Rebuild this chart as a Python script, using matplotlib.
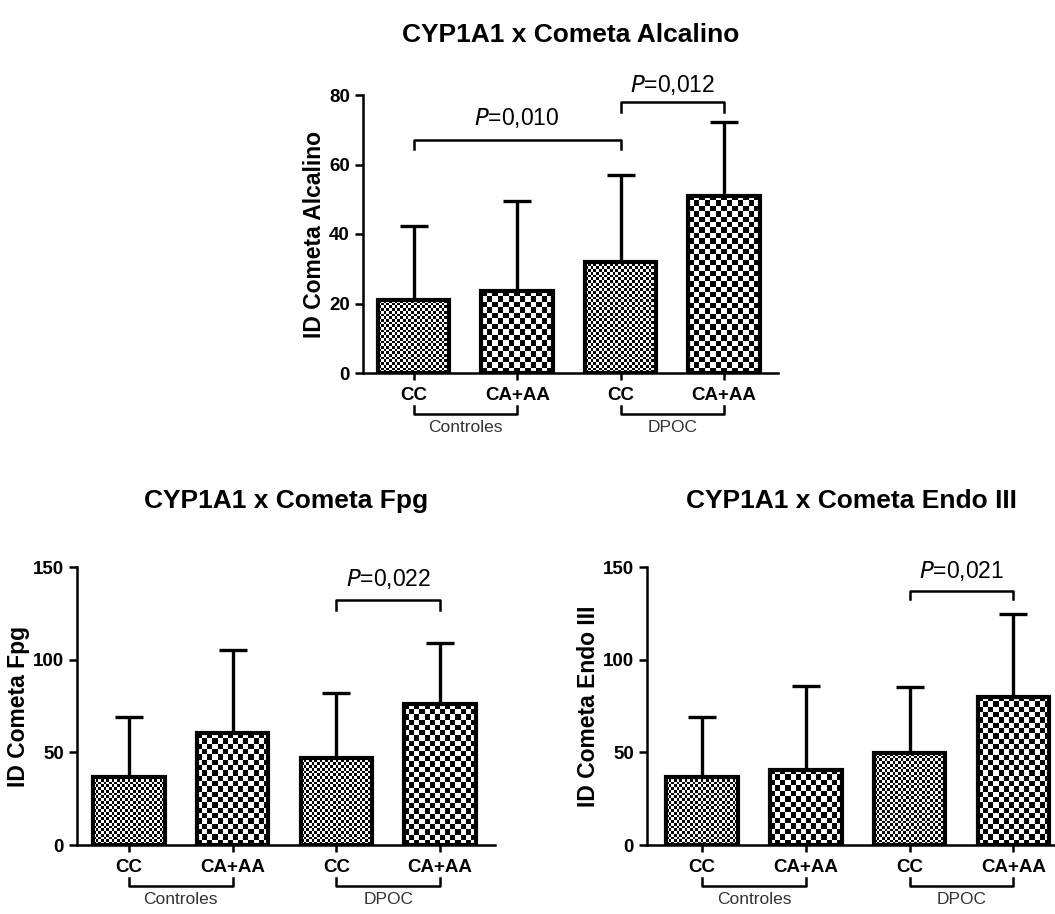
import matplotlib
matplotlib.use("Agg")
import matplotlib.pyplot as plt
import numpy as np

plt.rcParams["font.family"] = ["Liberation Sans", "DejaVu Sans"]

GROUP_LABELS = ["CC", "CA+AA", "CC", "CA+AA"]
SUBGROUPS = ["Controles", "DPOC"]

ALCALINO_MEAN = [21, 23.5, 32, 51]
ALCALINO_SD = [21.3, 26.0, 25.0, 21.2]

FPG_MEAN = [36.7, 60.4, 47, 76]
FPG_SD = [32.3, 44.6, 35, 33]

ENDO_MEAN = [36.7, 40.5, 49.6, 80]
ENDO_SD = [32.3, 45.5, 35.4, 44.5]

FINE_CELL = 2.7   # pixels per checker square (CC bars)
COARSE_CELL = 5.3  # pixels per checker square (CA+AA bars)


def checker(nx, ny):
    xx, yy = np.meshgrid(np.arange(nx), np.arange(ny))
    return ((xx + yy) % 2).astype(float)


def draw_panel(fig, rect, means, sds, ylim, yticks, ylabel, xlim, brackets,
               title, title_off):
    ax = fig.add_axes(rect)
    x = np.arange(len(means))
    ax.set_xlim(*xlim)
    ax.set_ylim(*ylim)

    ax.errorbar(x, means, yerr=[np.zeros(len(sds)), sds], fmt="none",
                ecolor="black", elinewidth=2.4, capsize=10, capthick=2.4,
                zorder=1)
    bars = ax.bar(x, means, width=0.69, facecolor="none", edgecolor="black",
                  linewidth=3, zorder=3)

    # checkerboard fill, sized in pixels so squares stay square
    fig.canvas.draw()
    for i, b in enumerate(bars):
        x0, y0 = b.get_x(), 0
        x1, y1 = b.get_x() + b.get_width(), b.get_height()
        p0 = ax.transData.transform((x0, y0))
        p1 = ax.transData.transform((x1, y1))
        cell = FINE_CELL if i % 2 == 0 else COARSE_CELL
        nx = max(1, int(round((p1[0] - p0[0]) / cell)))
        ny = max(1, int(round((p1[1] - p0[1]) / cell)))
        ax.imshow(checker(nx, ny), cmap="gray", vmin=0, vmax=1,
                  extent=(x0, x1, y0, y1), aspect="auto",
                  interpolation="nearest", zorder=2)
    ax.set_xlim(*xlim)
    ax.set_ylim(*ylim)

    for s in ["top", "right"]:
        ax.spines[s].set_visible(False)
    for s in ["left", "bottom"]:
        ax.spines[s].set_linewidth(1.8)
    ax.set_yticks(yticks)
    ax.set_xticks(x)
    ax.set_xticklabels(GROUP_LABELS)
    ax.tick_params(axis="both", direction="out", width=1.8, length=6,
                   labelsize=13.5)
    ax.tick_params(axis="x", length=5, pad=5)
    for lab in ax.get_xticklabels() + ax.get_yticklabels():
        lab.set_fontweight("bold")
    ax.set_ylabel(ylabel, fontsize=16.5, fontweight="bold", labelpad=2)
    ax.set_title(title, fontsize=19, fontweight="bold", pad=0,
                 y=1 + title_off / 278)

    # significance brackets
    for (a, b, h, drop, txt, ty) in brackets:
        ax.plot([a, a, b, b], [h - drop, h, h, h - drop], color="black",
                lw=1.8, clip_on=False)
        ax.text((a + b) / 2, ty, txt, ha="center", va="center", fontsize=16.5,
                clip_on=False)

    # subgroup brackets under the axis
    trans = ax.get_xaxis_transform()
    for k, name in enumerate(SUBGROUPS):
        a, b = 2 * k, 2 * k + 1
        yb = -0.148
        ax.plot([a, a, b, b], [yb + 0.03, yb, yb, yb + 0.03], color="black",
                lw=1.8, transform=trans, clip_on=False)
        ax.text((a + b) / 2, yb - 0.048, name, ha="center", va="center",
                fontsize=12.5, color="#333333", transform=trans)
    return ax


fig = plt.figure(figsize=(10.55, 9.14), dpi=100)

draw_panel(fig, [363 / 1055, 1 - 373 / 914, 415 / 1055, 278 / 914],
           ALCALINO_MEAN, ALCALINO_SD, (0, 80), [0, 20, 40, 60, 80],
           "ID Cometa Alcalino", (-0.49, 3.52),
           [(0, 2, 67, 2.5, "$\\it{P}$=0,010", 73.5),
            (2, 3, 78, 3, "$\\it{P}$=0,012", 83)],
           "CYP1A1 x Cometa Alcalino", 53)

draw_panel(fig, [77 / 1055, 1 - 845 / 914, 418 / 1055, 278 / 914],
           FPG_MEAN, FPG_SD, (0, 150), [0, 50, 100, 150],
           "ID Cometa Fpg", (-0.5, 3.53),
           [(2, 3, 132, 5, "$\\it{P}$=0,022", 143.5)],
           "CYP1A1 x Cometa Fpg", 59)

draw_panel(fig, [647 / 1055, 1 - 845 / 914, 408 / 1055, 278 / 914],
           ENDO_MEAN, ENDO_SD, (0, 150), [0, 50, 100, 150],
           "ID Cometa Endo III", (-0.53, 3.4),
           [(2, 3, 137, 4, "$\\it{P}$=0,021", 148)],
           "CYP1A1 x Cometa Endo III", 59)

fig.savefig("out.png", dpi=100)
